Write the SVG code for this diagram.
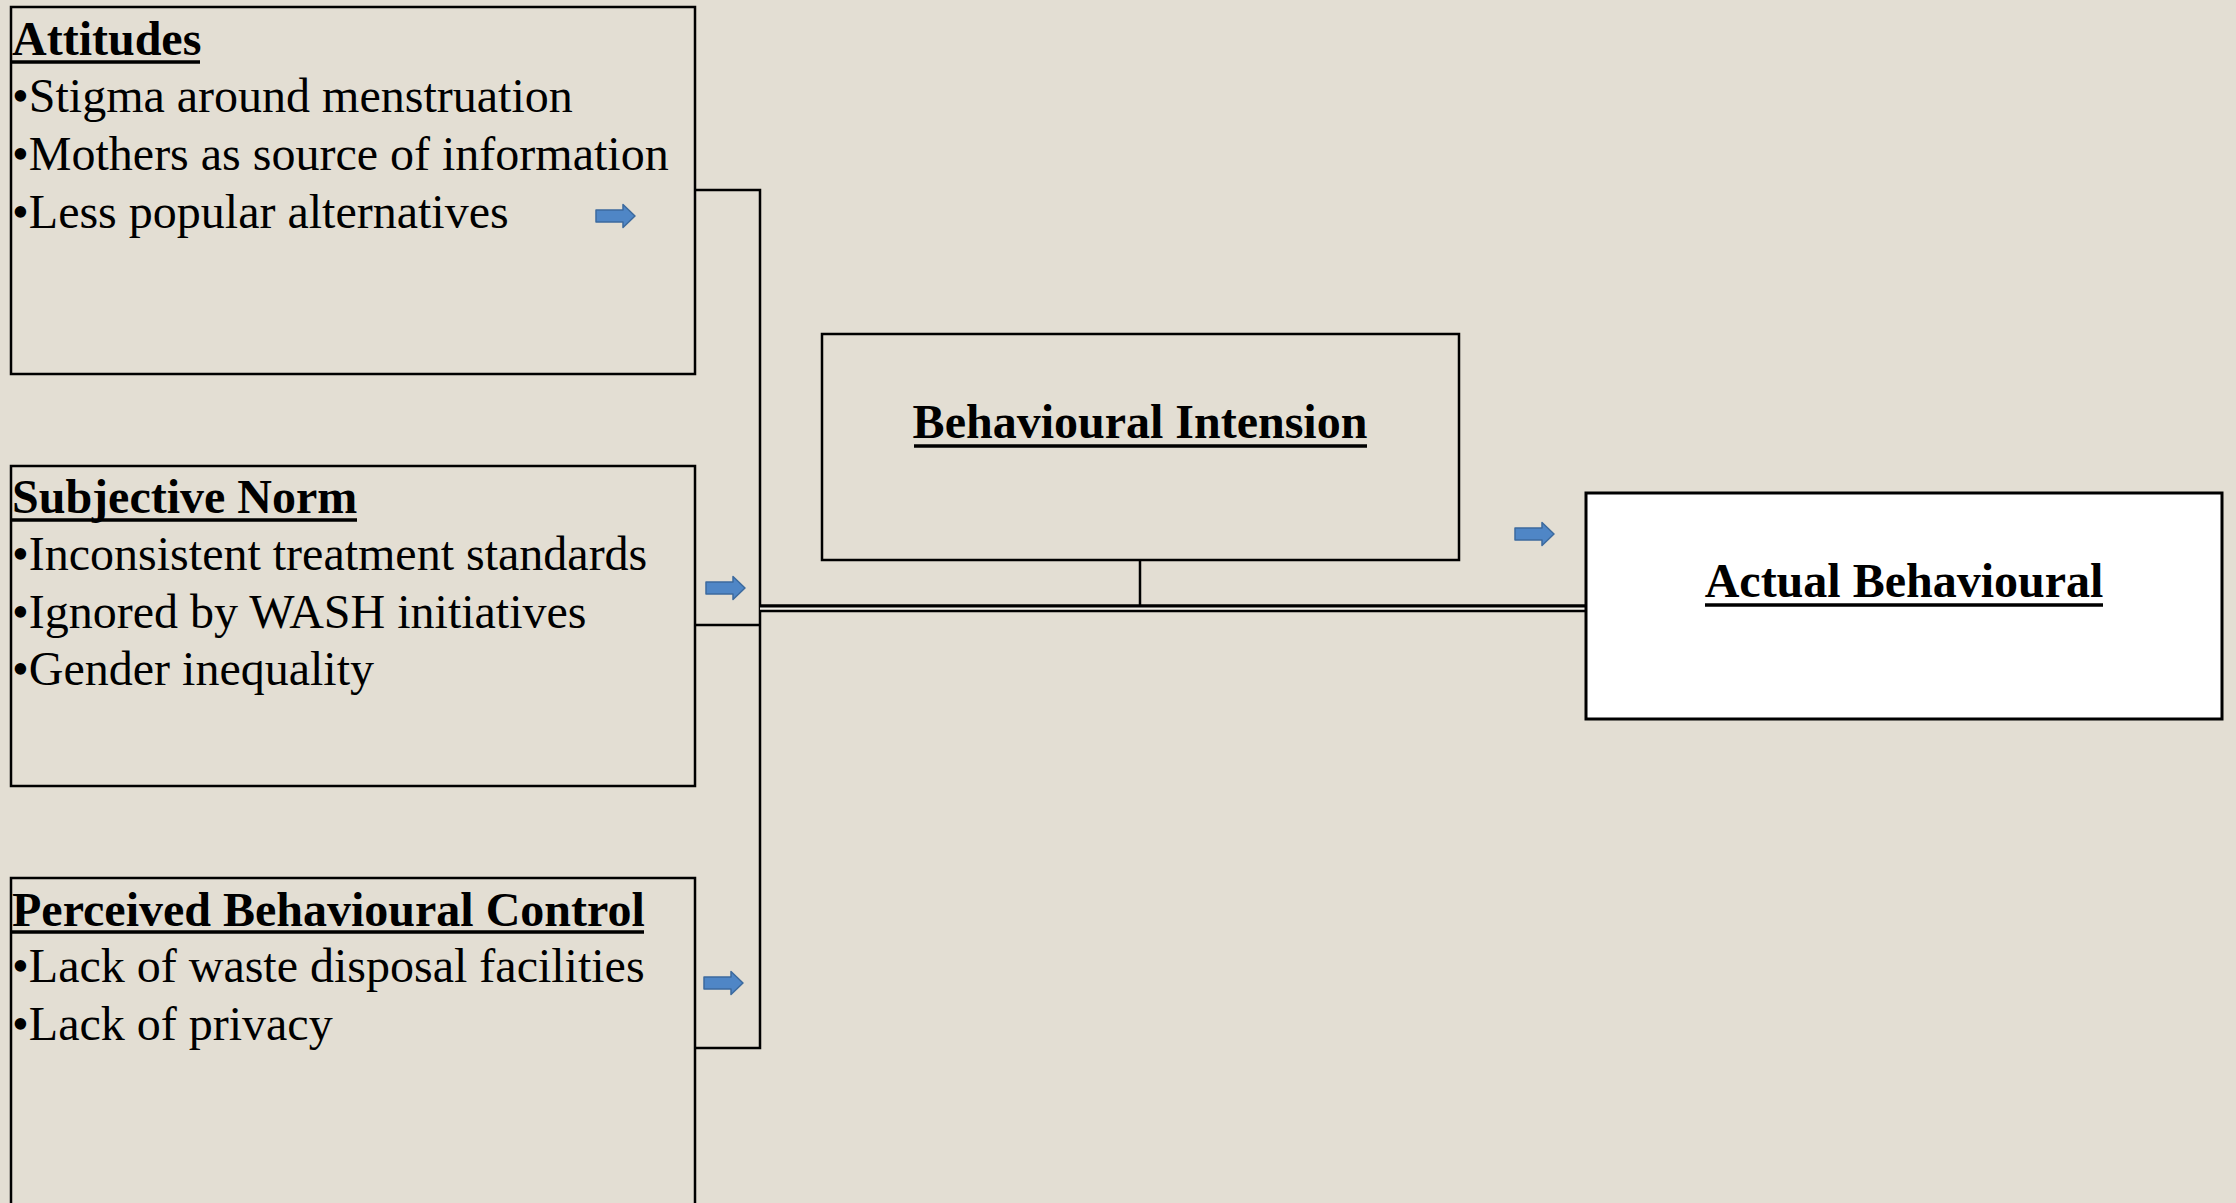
<svg xmlns="http://www.w3.org/2000/svg" xmlns:xlink="http://www.w3.org/1999/xlink" width="2236" height="1203" viewBox="0 0 2236 1203">
<style>
.box{fill:none;stroke:#000;stroke-width:2.5}
.wbox{fill:#fff;stroke:#000;stroke-width:3}
.hd{font-family:"Liberation Serif","Times New Roman",serif;font-weight:bold;font-size:48px;fill:#000}
.bl{font-family:"Liberation Serif","Times New Roman",serif;font-size:48px;fill:#000}
.ul{stroke:#000;stroke-width:3.5}
.ln{fill:none;stroke:#000;stroke-width:2.5}
</style>
<defs>
<path id="barrow" d="M0,-6 L27,-6 L27,-11.5 L39,0 L27,11.5 L27,6 L0,6 Z" fill="#4F86C6" stroke="#3C6A9E" stroke-width="1.5" stroke-linejoin="round"/>
</defs>
<rect x="0" y="0" width="2236" height="1203" fill="#E3DED3"/>

<g id="connectors">
<polyline class="ln" points="695,190 760,190 760,1048 695,1048"/>
<line class="ln" x1="695" y1="625" x2="760" y2="625"/>
<line class="ln" x1="1140" y1="560" x2="1140" y2="605"/>
<line x1="760" y1="608.3" x2="1586" y2="608.3" stroke="#000" stroke-width="8"/>
<line x1="760" y1="608.6" x2="1586" y2="608.6" stroke="#F4F1EA" stroke-width="2.2"/>
<use xlink:href="#barrow" href="#barrow" x="596" y="216"/>
<use xlink:href="#barrow" href="#barrow" x="706" y="588"/>
<use xlink:href="#barrow" href="#barrow" x="704" y="983"/>
<use xlink:href="#barrow" href="#barrow" x="1515" y="534"/>
</g>

<g id="attitudes">
<rect class="box" x="11" y="7" width="684" height="367"/>
<text class="hd" x="12" y="54.5">Attitudes</text>
<line class="ul" x1="12" y1="62" x2="200" y2="62"/>
<text class="bl" x="12" y="111.5">•Stigma around menstruation</text>
<text class="bl" x="12" y="169.5">•Mothers as source of information</text>
<text class="bl" x="12" y="228">•Less popular alternatives</text>
</g>

<g id="subjective-norm">
<rect class="box" x="11" y="466" width="684" height="320"/>
<text class="hd" x="12" y="512.5">Subjective Norm</text>
<line class="ul" x1="12" y1="520" x2="357" y2="520"/>
<text class="bl" x="12" y="569.5">•Inconsistent treatment standards</text>
<text class="bl" x="12" y="627.5">•Ignored by WASH initiatives</text>
<text class="bl" x="12" y="684.5">•Gender inequality</text>
</g>

<g id="perceived-behavioural-control">
<rect class="box" x="11" y="878" width="684" height="340"/>
<text class="hd" x="12" y="925.5">Perceived Behavioural Control</text>
<line class="ul" x1="12" y1="932" x2="644" y2="932"/>
<text class="bl" x="12" y="982">•Lack of waste disposal facilities</text>
<text class="bl" x="12" y="1039.5">•Lack of privacy</text>
</g>

<g id="behavioural-intension">
<rect class="box" x="822" y="334" width="637" height="226"/>
<text class="hd" x="1140" y="438" text-anchor="middle">Behavioural Intension</text>
<line class="ul" x1="914" y1="446" x2="1367" y2="446"/>
</g>

<g id="actual-behavioural">
<rect class="wbox" x="1586" y="493" width="636" height="226"/>
<text class="hd" x="1904" y="597" text-anchor="middle">Actual Behavioural</text>
<line class="ul" x1="1705" y1="605" x2="2103" y2="605"/>
</g>
</svg>
